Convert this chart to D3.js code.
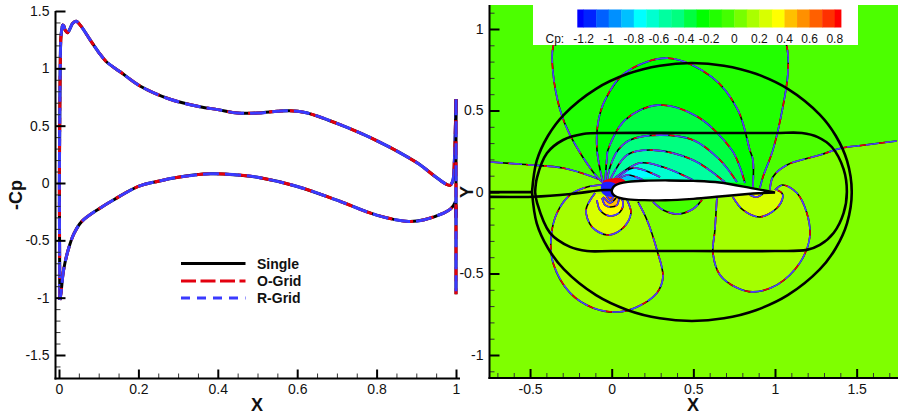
<!DOCTYPE html>
<html><head><meta charset="utf-8">
<style>html,body{margin:0;padding:0;background:#fff}svg{display:block}text{font-family:"Liberation Sans",Arial,sans-serif;fill:#111}</style>
<script src="https://cdn.jsdelivr.net/npm/d3@7"></script></head><body><svg id="c" width="898" height="418"></svg>
<script>
// ---- Left panel: -Cp vs X
const cpUpper=[[0.002,-1.02],[0.0015,-0.6],[0.001,0],[0.002,0.6],[0.003,1.0],[0.005,1.28],[0.008,1.36],[0.0095,1.378],[0.012,1.37],[0.016,1.33],[0.021,1.31],[0.027,1.34],[0.034,1.39],[0.043,1.41],[0.055,1.37],[0.078,1.25],[0.1,1.14],[0.12,1.055],[0.154,0.97],[0.204,0.846],[0.28,0.73],[0.355,0.665],[0.4,0.64],[0.45,0.61],[0.5,0.61],[0.55,0.625],[0.58,0.63],[0.62,0.615],[0.7,0.52],[0.8,0.37],[0.9,0.18],[0.95,0.05],[0.975,-0.01],[0.985,-0.02],[0.992,0.02],[0.996,0.2],[0.998,0.42],[1,0.73]];
const cpLower=[[1,-0.3],[0.998,-0.17],[0.993,-0.2],[0.985,-0.23],[0.97,-0.26],[0.92,-0.32],[0.88,-0.335],[0.8,-0.28],[0.7,-0.15],[0.6,-0.03],[0.5,0.05],[0.45,0.07],[0.38,0.08],[0.3,0.05],[0.25,0.015],[0.2,-0.03],[0.137,-0.148],[0.103,-0.22],[0.057,-0.337],[0.038,-0.44],[0.023,-0.585],[0.011,-0.77],[0.005,-0.96],[0.002,-1.02]];
const cpSpike=[[1,0.73],[1,-0.97]];
const leftXTicks=[0,0.2,0.4,0.6,0.8,1];
const leftYTicks=[-1.5,-1,-0.5,0,0.5,1,1.5];
const leftXMinor=[0.05,0.1,0.15,0.25,0.3,0.35,0.45,0.5,0.55,0.65,0.7,0.75,0.85,0.9,0.95];
const leftYMinor=[-1.6,-1.4,-1.3,-1.2,-1.1,-0.9,-0.8,-0.7,-0.6,-0.4,-0.3,-0.2,-0.1,0.1,0.2,0.3,0.4,0.6,0.7,0.8,0.9,1.1,1.2,1.3,1.4];
const legendNames=["Single","O-Grid","R-Grid"];
// ---- Right panel
const rightXTicks=[-0.5,0,0.5,1,1.5];
const rightYTicks=[-1,-0.5,0,0.5,1];
const rightXMinor=[-0.7,-0.6,-0.4,-0.3,-0.2,-0.1,0.1,0.2,0.3,0.4,0.6,0.7,0.8,0.9,1.1,1.2,1.3,1.4,1.6,1.7];
const rightYMinor=[-1.1,-0.9,-0.8,-0.7,-0.6,-0.4,-0.3,-0.2,-0.1,0.1,0.2,0.3,0.4,0.6,0.7,0.8,0.9,1.1];
const cbBounds=[-1.25,-1.2,-1.1,-1,-0.9,-0.8,-0.7,-0.6,-0.5,-0.4,-0.3,-0.2,-0.1,0,0.1,0.2,0.3,0.4,0.5,0.6,0.7,0.8,0.85];
const cbColors=["#0000ff","#0022ff","#0060ff","#0090ff","#00c0ff","#00ffff","#00ffd0","#00ffa0","#00ff80","#00ff40","#00ff00","#22ff00","#44ff00","#77ff00","#aaff00","#d8ff00","#ffff00","#ffc000","#ff9000","#ff6000","#ff3000","#ff0000"];
const cbLabels=[-1.2,-1,-0.8,-0.6,-0.4,-0.2,0,0.2,0.4,0.6,0.8];
const airfoilUpper=[[0,0.006],[0.005,0.022],[0.02,0.04],[0.05,0.053],[0.1,0.062],[0.2,0.069],[0.35,0.071],[0.5,0.068],[0.66,0.058],[0.865,0.022],[1,-0.003]];
const airfoilLower=[[0.865,-0.009],[0.66,-0.028],[0.5,-0.042],[0.33,-0.051],[0.2,-0.05],[0.1,-0.045],[0.05,-0.037],[0.02,-0.025],[0.005,-0.01],[0,0.006]];
const contourLeftOuter=[[-0.745,0.184],[-0.5,0.166],[-0.298,0.147],[-0.114,0.092],[-0.029,0.055],[0,0.03]];
const contourRightOuter=[[0.969,0.012],[0.987,0.092],[1.073,0.166],[1.275,0.227],[1.409,0.27],[1.55,0.288],[1.746,0.313]];
const contourA=[[-0.053,0.055],[-0.114,0.123],[-0.255,0.349],[-0.316,0.503],[-0.359,0.73],[-0.359,0.889],[-0.3,1.02],[0.36,1.08],[1.02,1.02],[1.073,0.889],[1.079,0.73],[1.048,0.521],[0.987,0.257],[0.926,0.092],[0.908,0.025]];
const contourB=[[-0.053,0.055],[-0.09,0.257],[-0.084,0.423],[-0.041,0.564],[0.081,0.73],[0.345,0.821],[0.614,0.705],[0.773,0.503],[0.846,0.257],[0.865,0.196],[0.865,0.03]];
const contourC=[[-0.041,0.055],[-0.029,0.215],[-0.023,0.257],[0.081,0.441],[0.283,0.533],[0.528,0.46],[0.736,0.257],[0.785,0.153],[0.816,0.055]];
const contourD=[[-0.029,0.061],[-0.01,0.153],[0.039,0.257],[0.112,0.319],[0.296,0.349],[0.498,0.319],[0.663,0.196],[0.767,0.061]];
const contourE=[[-0.01,0.074],[0.094,0.227],[0.253,0.257],[0.498,0.196],[0.693,0.061]];
const contourF=[[0.02,0.086],[0.173,0.178],[0.314,0.153],[0.498,0.074]];
const contourG=[[0.039,0.086],[0.13,0.147],[0.296,0.092]];
const contourH=[[0.039,0.074],[0.094,0.104],[0.192,0.074]];
const contourL1=[[-0.053,0.043],[-0.151,0.031],[-0.255,-0.018],[-0.335,-0.129],[-0.371,-0.276],[-0.359,-0.435],[-0.255,-0.619],[-0.114,-0.711],[0.032,-0.736],[0.155,-0.705],[0.277,-0.619],[0.314,-0.521],[0.277,-0.356],[0.216,-0.172],[0.161,-0.061]];
const contourL2=[[-0.102,-0.006],[-0.157,-0.11],[-0.12,-0.215],[-0.023,-0.264],[0.069,-0.221],[0.118,-0.129],[0.094,-0.049]];
const contourL3=[[-0.09,-0.049],[-0.072,-0.11],[-0.01,-0.147],[0.051,-0.123],[0.069,-0.061],[0.032,-0.006]];
const contourL4=[[-0.059,-0.037],[-0.041,-0.08],[-0.01,-0.092],[0.032,-0.08],[0.045,-0.037]];
const contourL5=[[-0.053,-0.031],[-0.01,-0.067],[0.026,-0.037]];
const contourL6=[[-0.035,-0.018],[-0.01,-0.049],[0.014,-0.025]];
const contourLobe=[[0.253,-0.061],[0.314,-0.11],[0.406,-0.135],[0.498,-0.104],[0.553,-0.049]];
const contourR1=[[0.644,-0.037],[0.632,-0.233],[0.62,-0.374],[0.663,-0.509],[0.767,-0.588],[0.865,-0.613],[1.012,-0.57],[1.152,-0.435],[1.213,-0.276],[1.195,-0.129],[1.134,-0.006],[1.048,0.043],[1,0.012]];
const contourR2=[[0.742,-0.031],[0.804,-0.11],[0.908,-0.153],[1.012,-0.098],[1.048,-0.031],[1.042,-0.006],[1.012,0.012]];
const contourR3=[[0.846,-0.018],[0.889,-0.031],[0.926,-0.012]];
const blobRed=[[-0.045,0.07],[0.01,0.085],[0.07,0.078],[0.095,0.045],[0.07,0.028],[0,0.04],[-0.055,0.052]];
const blobBlue=[[-0.06,0.052],[0,0.06],[0.045,0.03],[0.012,0],[0.03,-0.025],[-0.02,-0.028],[-0.06,-0.005]];
const gridEllipse=[[-0.488,0],[-0.459,0.192],[-0.39,0.345],[-0.292,0.475],[-0.096,0.633],[0.099,0.725],[0.295,0.775],[0.491,0.791],[0.687,0.775],[0.883,0.725],[1.078,0.633],[1.274,0.475],[1.372,0.345],[1.441,0.192],[1.47,0],[1.441,-0.192],[1.372,-0.345],[1.274,-0.475],[1.078,-0.633],[0.883,-0.725],[0.687,-0.775],[0.491,-0.791],[0.295,-0.775],[0.099,-0.725],[-0.096,-0.633],[-0.292,-0.475],[-0.39,-0.345],[-0.459,-0.192],[-0.488,0]];
const gridStadium=[[-0.469,0],[-0.457,0.09],[-0.396,0.239],[-0.298,0.319],[-0.176,0.356],[0,0.362],[0.5,0.362],[1,0.362],[1.165,0.362],[1.262,0.337],[1.348,0.276],[1.42,0.14],[1.44,0],[1.42,-0.13],[1.36,-0.25],[1.275,-0.325],[1.195,-0.355],[1.0,-0.362],[0.5,-0.362],[0,-0.362],[-0.151,-0.362],[-0.255,-0.337],[-0.378,-0.251],[-0.457,-0.067],[-0.469,0]];
const wakeUpper=[[-0.75,-0.001],[-0.488,-0.001]];
const wakeLower=[[-0.75,-0.03],[-0.482,-0.029],[-0.25,-0.012],[-0.05,0.012],[0,0.012]];

const svg=d3.select("#c");
const lx=d3.scaleLinear().domain([0,1]).range([59,456]);
const ly=d3.scaleLinear().domain([0,1.5]).range([183,11]);
const lb=378.5, ll=55.5;
const rx=d3.scaleLinear().domain([0,1]).range([611.7,775]);
const ry=d3.scaleLinear().domain([0,1]).range([192,29]);
const rb=378, rl=489.5;
const fmt=d=>String(d);

function axes(g,xs,ys,bottom,left,xT,yT,xM,yM,xEnd,yTop){
  const ax=g.append("g").attr("transform",`translate(0,${bottom})`)
   .call(d3.axisBottom(xs).tickValues(xT).tickFormat(fmt).tickSize(-9).tickSizeOuter(0).tickPadding(6));
  ax.select(".domain").remove();
  ax.selectAll("line").attr("stroke","#000").attr("stroke-width",2);
  const am=g.append("g").attr("transform",`translate(0,${bottom})`)
   .call(d3.axisBottom(xs).tickValues(xM).tickFormat("").tickSize(-5).tickSizeOuter(0));
  am.select(".domain").remove(); am.selectAll("line").attr("stroke","#333").attr("stroke-width",1);
  const ay=g.append("g").attr("transform",`translate(${left},0)`)
   .call(d3.axisLeft(ys).tickValues(yT).tickFormat(fmt).tickSize(-10).tickSizeOuter(0).tickPadding(6));
  ay.select(".domain").remove();
  ay.selectAll("line").attr("stroke","#000").attr("stroke-width",2);
  const an=g.append("g").attr("transform",`translate(${left},0)`)
   .call(d3.axisLeft(ys).tickValues(yM).tickFormat("").tickSize(-5).tickSizeOuter(0));
  an.select(".domain").remove(); an.selectAll("line").attr("stroke","#333").attr("stroke-width",1);
  g.selectAll(".tick text").attr("font-size",14).attr("fill","#111").attr("font-family",'"Liberation Sans",Arial,sans-serif');
  g.append("line").attr("x1",left).attr("x2",left).attr("y1",yTop).attr("y2",bottom+1).attr("stroke","#000").attr("stroke-width",2);
  g.append("line").attr("x1",left-1).attr("x2",xEnd).attr("y1",bottom).attr("y2",bottom).attr("stroke","#000").attr("stroke-width",2);
}

// ---- Left panel
const gl=svg.append("g");
const lineL=d3.line().x(d=>lx(d[0])).y(d=>ly(d[1])).curve(d3.curveCatmullRom.alpha(0.5));
[cpUpper,cpLower,cpSpike].forEach(s=>{
  gl.append("path").attr("d",lineL(s)).attr("fill","none").attr("stroke","#000").attr("stroke-width",3);
  gl.append("path").attr("d",lineL(s)).attr("fill","none").attr("stroke","#e3000f").attr("stroke-width",3).attr("stroke-dasharray","14 7");
  gl.append("path").attr("d",lineL(s)).attr("fill","none").attr("stroke","#3a3aff").attr("stroke-width",3).attr("stroke-dasharray","16 6");
});
axes(gl,lx,ly,lb,ll,leftXTicks,leftYTicks,leftXMinor,leftYMinor,460,11);
gl.append("text").attr("x",257).attr("y",411).attr("text-anchor","middle").attr("font-size",18).attr("font-weight","bold").text("X");
gl.append("text").attr("transform","translate(22,195) rotate(-90)").attr("text-anchor","middle").attr("font-size",18).attr("font-weight","bold").text("-Cp");
const legY=[263.5,281,298], legC=["#000","#e3000f","#3a3aff"], legD=[null,"15 4.5","9 7"];
legendNames.forEach((n,i)=>{
  gl.append("line").attr("x1",181).attr("x2",245.5).attr("y1",legY[i]).attr("y2",legY[i]).attr("stroke",legC[i]).attr("stroke-width",3).attr("stroke-dasharray",legD[i]);
  gl.append("text").attr("x",257).attr("y",legY[i]+5).attr("font-size",14).attr("font-weight","bold").text(n);
});

// ---- Right panel
const gr=svg.append("g");
svg.append("clipPath").attr("id","plot").append("rect").attr("x",rl).attr("y",5).attr("width",898-rl).attr("height",rb-5);
const pg=gr.append("g").attr("clip-path","url(#plot)");
pg.append("rect").attr("x",rl).attr("y",5).attr("width",898-rl).attr("height",rb-5).attr("fill","#7fff00");
const lineR=d3.line().x(d=>rx(d[0])).y(d=>ry(d[1])).curve(d3.curveCatmullRom.alpha(0.5));
const pr=p=>`L${rx(p[0])},${ry(p[1])}`;
const topCorners=[[1.8,0.313],[1.8,1.2],[-0.8,1.2],[-0.8,0.184]];
pg.append("path").attr("d",lineR(contourLeftOuter)+"L"+lineR(contourRightOuter).slice(1)+topCorners.map(pr).join("")+"Z").attr("fill","#4cff00");
const fills=[[contourLobe,"#44ff00"],[contourA,"#22ff00"],[contourB,"#00ff00"],[contourC,"#00ff40"],[contourD,"#00ff80"],[contourE,"#00ffa0"],[contourF,"#00ffd0"],[contourG,"#00ffff"],[contourH,"#00c0ff"],
 [contourL1,"#a4ff00"],[contourL2,"#d8ff00"],[contourL3,"#ffff00"],[contourL4,"#ffc000"],[contourL5,"#ff9000"],[contourL6,"#ff6000"],
 [contourR1,"#a4ff00"],[contourR2,"#d8ff00"],[contourR3,"#ffff00"]];
fills.forEach(([s,c])=>pg.append("path").attr("d",lineR(s)+"Z").attr("fill",c));
const contours=[contourLeftOuter,contourRightOuter,contourLobe,contourA,contourB,contourC,contourD,contourE,contourF,contourG,contourH,contourL1,contourL2,contourL3,contourL4,contourL5,contourL6,contourR1,contourR2,contourR3];
contours.forEach(s=>{
  const d=lineR(s);
  pg.append("path").attr("d",d).attr("fill","none").attr("stroke","#000").attr("stroke-width",1.6);
  pg.append("path").attr("d",d).attr("fill","none").attr("stroke","#e3000f").attr("stroke-width",1.6).attr("stroke-dasharray","11 7");
  pg.append("path").attr("d",d).attr("fill","none").attr("stroke","#4646ff").attr("stroke-width",1.6).attr("stroke-dasharray","13 6");
});
const blobLine=d3.line().x(d=>rx(d[0])).y(d=>ry(d[1])).curve(d3.curveCatmullRomClosed);
pg.append("path").attr("d",blobLine(blobRed)).attr("fill","#f00010");
pg.append("path").attr("d",blobLine(blobBlue)).attr("fill","#2020ff");
[gridEllipse,gridStadium,wakeUpper,wakeLower].forEach(s=>{
  pg.append("path").attr("d",lineR(s)).attr("fill","none").attr("stroke","#000").attr("stroke-width",2.6);
});
pg.append("path").attr("d",lineR(airfoilUpper)+"L"+lineR(airfoilLower).slice(1)+"Z").attr("fill","#fff").attr("stroke","#000").attr("stroke-width",2.4);

gr.append("rect").attr("x",533).attr("y",0).attr("width",325).attr("height",45).attr("fill","#fff");
const cb=d3.scaleLinear().domain([-1.25,0.85]).range([577.3,841]);
cbColors.forEach((c,i)=>gr.append("rect").attr("x",cb(cbBounds[i])).attr("y",9.5).attr("width",cb(cbBounds[i+1])-cb(cbBounds[i])+0.4).attr("height",18).attr("fill",c));
cbLabels.forEach(v=>gr.append("text").attr("x",cb(v)).attr("y",42.5).attr("text-anchor","middle").attr("font-size",12).text(fmt(v)));
gr.append("text").attr("x",545.5).attr("y",42.5).attr("font-size",12).text("Cp:");

axes(gr,rx,ry,rb,rl,rightXTicks,rightYTicks,rightXMinor,rightYMinor,898,5);
gr.append("text").attr("x",693).attr("y",411).attr("text-anchor","middle").attr("font-size",18).attr("font-weight","bold").text("X");
gr.append("text").attr("transform","translate(473,192) rotate(-90)").attr("text-anchor","middle").attr("font-size",18).attr("font-weight","bold").text("Y");
</script></body></html>
